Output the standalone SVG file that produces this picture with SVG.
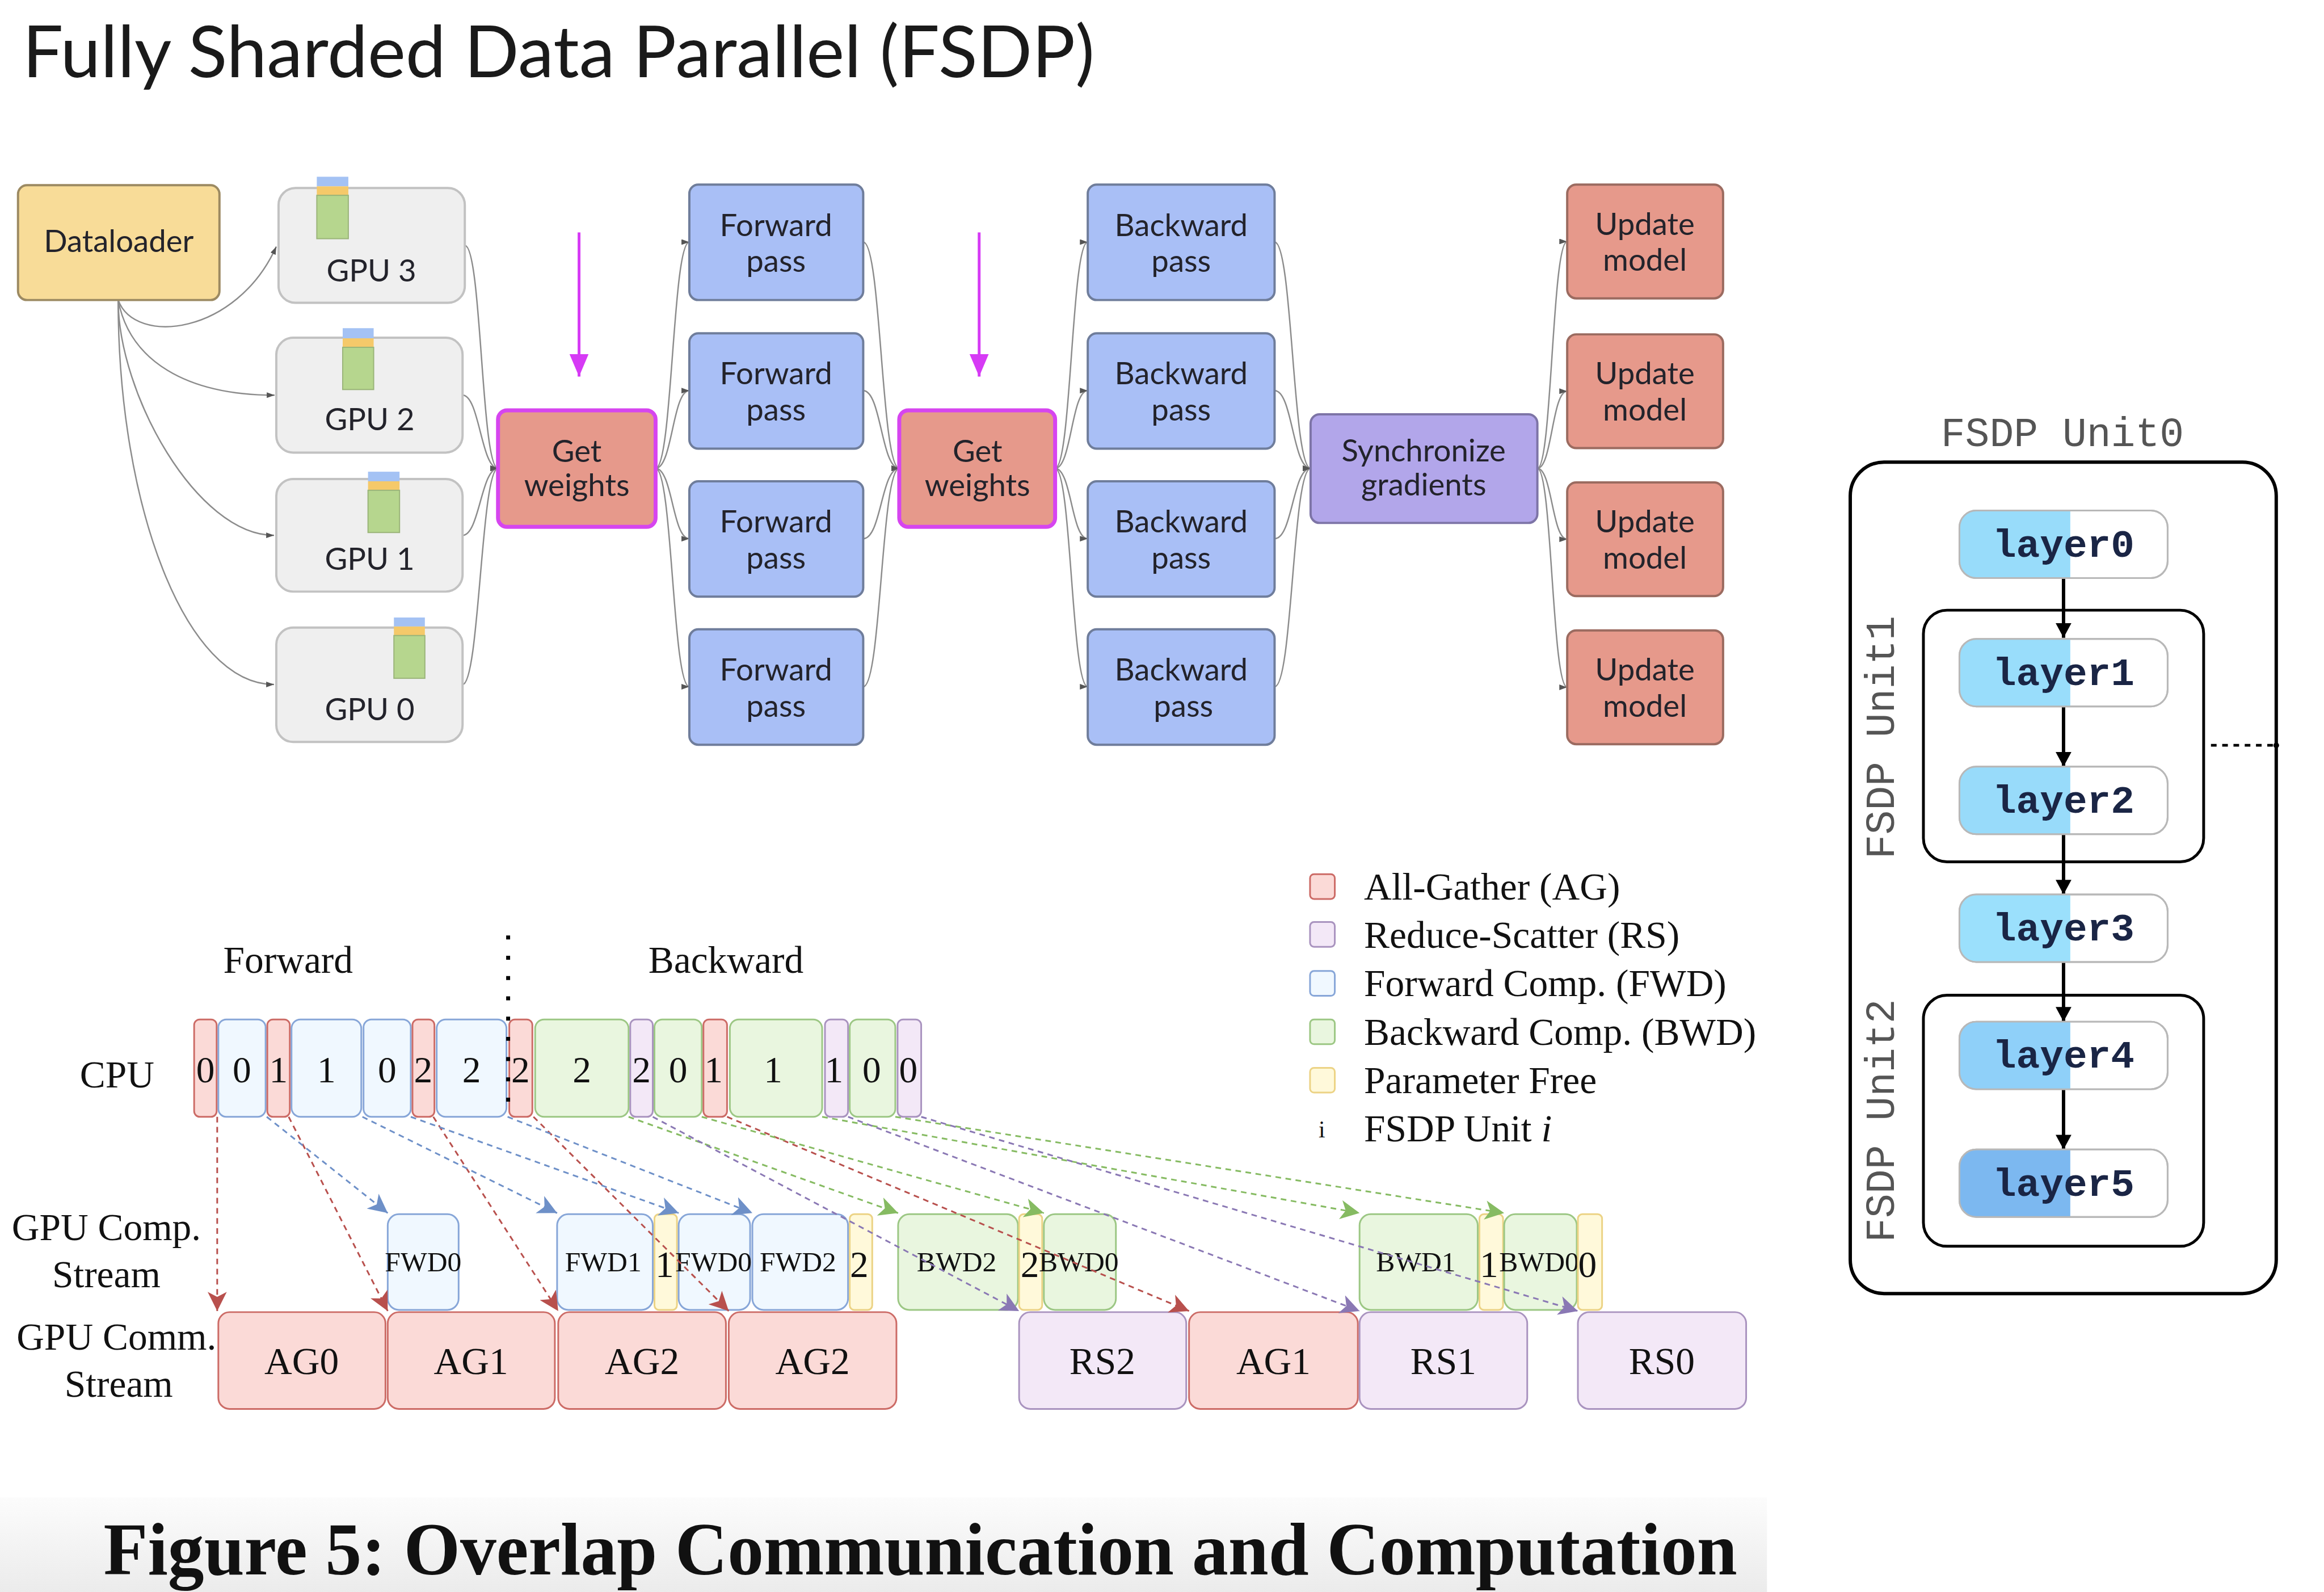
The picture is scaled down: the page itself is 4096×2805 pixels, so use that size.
<svg xmlns="http://www.w3.org/2000/svg" width="4096" height="2805" viewBox="0 0 4096 2805">
<defs>
<style>
.nt{font-family:Lato,'Open Sans','DejaVu Sans',sans-serif;font-size:55px;fill:#23232b;text-anchor:middle}
.conn{fill:none;stroke:#8c8c8c;stroke-width:2.5;marker-end:url(#sm)}
.ser{font-family:'Liberation Serif','Times New Roman',serif;fill:#111}
.mid{text-anchor:middle}
.gpu{fill:#efefef;stroke:#c2c2c2;stroke-width:4}
.fb{fill:#a9bff6;stroke:#6f7d9b;stroke-width:4}
.upd{fill:#e6998b;stroke:#9b6b60;stroke-width:4}
.gw{fill:#e6998b;stroke:#d645ef;stroke-width:7}
.r{fill:#fbdad7;stroke:#cc6b66;stroke-width:3}
.b{fill:#f0f8ff;stroke:#87a6d8;stroke-width:3}
.g{fill:#e9f6df;stroke:#9cc784;stroke-width:3}
.p{fill:#f3e8f7;stroke:#a993bf;stroke-width:3}
.y{fill:#fff9da;stroke:#ecd385;stroke-width:3}
.dr{fill:none;stroke:#b8504d;stroke-width:3;stroke-dasharray:10 8;marker-end:url(#ar)}
.db{fill:none;stroke:#6e90c8;stroke-width:3;stroke-dasharray:10 8;marker-end:url(#ab)}
.dg{fill:none;stroke:#86bb62;stroke-width:3;stroke-dasharray:10 8;marker-end:url(#ag)}
.dp{fill:none;stroke:#8a78b4;stroke-width:3;stroke-dasharray:10 8;marker-end:url(#ap)}
.lay{fill:#ffffff;stroke:#b8b8b8;stroke-width:3}
.lt{font-family:'Liberation Mono','DejaVu Sans Mono',monospace;font-weight:bold;font-size:70px;fill:#1a2545;text-anchor:middle}
.ut{font-family:'Liberation Mono','DejaVu Sans Mono',monospace;font-size:72px;fill:#555;text-anchor:middle}
.la{fill:none;stroke:#000;stroke-width:6;marker-end:url(#ak)}
</style>
<marker id="sm" markerUnits="userSpaceOnUse" viewBox="0 0 14 10" refX="14" refY="5" markerWidth="14" markerHeight="10" orient="auto"><path d="M0,0 L14,5 L0,10 Z" fill="#555"/></marker>
<marker id="ar" markerUnits="userSpaceOnUse" viewBox="0 0 34 34" refX="34" refY="17" markerWidth="34" markerHeight="34" orient="auto"><path d="M0,0 L34,17 L0,34 L9,17 Z" fill="#b8504d"/></marker>
<marker id="ab" markerUnits="userSpaceOnUse" viewBox="0 0 34 34" refX="34" refY="17" markerWidth="34" markerHeight="34" orient="auto"><path d="M0,0 L34,17 L0,34 L9,17 Z" fill="#6e90c8"/></marker>
<marker id="ag" markerUnits="userSpaceOnUse" viewBox="0 0 34 34" refX="34" refY="17" markerWidth="34" markerHeight="34" orient="auto"><path d="M0,0 L34,17 L0,34 L9,17 Z" fill="#86bb62"/></marker>
<marker id="ap" markerUnits="userSpaceOnUse" viewBox="0 0 34 34" refX="34" refY="17" markerWidth="34" markerHeight="34" orient="auto"><path d="M0,0 L34,17 L0,34 L9,17 Z" fill="#8a78b4"/></marker>
<marker id="ak" markerUnits="userSpaceOnUse" viewBox="0 0 26 28" refX="26" refY="14" markerWidth="26" markerHeight="28" orient="auto"><path d="M0,0 L26,14 L0,28 Z" fill="#000"/></marker>
<marker id="am" markerUnits="userSpaceOnUse" viewBox="0 0 40 34" refX="40" refY="17" markerWidth="40" markerHeight="34" orient="auto"><path d="M0,0 L40,17 L0,34 Z" fill="#d63af5"/></marker>
<linearGradient id="band" x1="0" y1="0" x2="0" y2="1"><stop offset="0" stop-color="#fcfcfc"/><stop offset="1" stop-color="#ebebeb"/></linearGradient>
</defs>
<rect width="4096" height="2805" fill="#ffffff"/>
<g transform="scale(0.9918)">
<text id="title" x="40" y="137" font-family="Lato,'Open Sans',sans-serif" font-size="128" fill="#1a1a1a" textLength="1905" lengthAdjust="spacingAndGlyphs">Fully Sharded Data Parallel (FSDP)</text>

<!-- top connectors -->
<g id="connectors-top">
<path class="conn" d="M210,533 C240,615 420,595 491,438"/>
<path class="conn" d="M210,533 C230,640 330,702 488,702"/>
<path class="conn" d="M210,533 C210,700 350,951 487,951"/>
<path class="conn" d="M210,533 C210,900 330,1216 487,1216"/>
<path class="conn" d="M826,436 C856,436 855,832 885,832"/>
<path class="conn" d="M822,702 C852,702 855,832 885,832"/>
<path class="conn" d="M822,951 C852,951 855,832 885,832"/>
<path class="conn" d="M822,1216 C852,1216 855,832 885,832"/>
<path class="conn" d="M1165,832 C1195,832 1195,430 1225,430"/>
<path class="conn" d="M1165,832 C1195,832 1195,694 1225,694"/>
<path class="conn" d="M1165,832 C1195,832 1195,957 1225,957"/>
<path class="conn" d="M1165,832 C1195,832 1195,1220 1225,1220"/>
<path class="conn" d="M1534,430 C1566,430 1566,832 1598,832"/>
<path class="conn" d="M1534,694 C1566,694 1566,832 1598,832"/>
<path class="conn" d="M1534,957 C1566,957 1566,832 1598,832"/>
<path class="conn" d="M1534,1220 C1566,1220 1566,832 1598,832"/>
<path class="conn" d="M1875,832 C1904,832 1904,430 1933,430"/>
<path class="conn" d="M1875,832 C1904,832 1904,694 1933,694"/>
<path class="conn" d="M1875,832 C1904,832 1904,957 1933,957"/>
<path class="conn" d="M1875,832 C1904,832 1904,1220 1933,1220"/>
<path class="conn" d="M2265,430 C2297,430 2297,832 2329,832"/>
<path class="conn" d="M2265,694 C2297,694 2297,832 2329,832"/>
<path class="conn" d="M2265,957 C2297,957 2297,832 2329,832"/>
<path class="conn" d="M2265,1220 C2297,1220 2297,832 2329,832"/>
<path class="conn" d="M2732,832 C2758,832 2758,429 2785,429"/>
<path class="conn" d="M2732,832 C2758,832 2758,695 2785,695"/>
<path class="conn" d="M2732,832 C2758,832 2758,958 2785,958"/>
<path class="conn" d="M2732,832 C2758,832 2758,1221 2785,1221"/>
<path d="M1029,413 V669" stroke="#d63af5" stroke-width="5" marker-end="url(#am)"/>
<path d="M1740,413 V669" stroke="#d63af5" stroke-width="5" marker-end="url(#am)"/>
</g>

<g id="dataloader"><rect x="32" y="329" width="358" height="204" rx="16" fill="#f8dc98" stroke="#9c8a62" stroke-width="4"/><text class="nt" x="211" y="448" fill="#3a3020">Dataloader</text></g>

<g id="gpu3"><rect class="gpu" x="495" y="334" width="331" height="204" rx="30"/>
<rect x="563" y="314" width="56" height="17" fill="#a4c2f4"/><rect x="563" y="331" width="56" height="16" fill="#f5c96a"/><rect x="563" y="347" width="56" height="77" fill="#b6d68e" stroke="#9ab479" stroke-width="2"/>
<text class="nt" x="660" y="500">GPU 3</text></g>
<g id="gpu2"><rect class="gpu" x="491" y="600" width="331" height="204" rx="30"/>
<rect x="609" y="583" width="55" height="18" fill="#a4c2f4"/><rect x="609" y="601" width="55" height="16" fill="#f5c96a"/><rect x="609" y="617" width="55" height="75" fill="#b6d68e" stroke="#9ab479" stroke-width="2"/>
<text class="nt" x="657" y="764">GPU 2</text></g>
<g id="gpu1"><rect class="gpu" x="491" y="851" width="331" height="200" rx="30"/>
<rect x="654" y="838" width="56" height="17" fill="#a4c2f4"/><rect x="654" y="855" width="56" height="16" fill="#f5c96a"/><rect x="654" y="871" width="56" height="75" fill="#b6d68e" stroke="#9ab479" stroke-width="2"/>
<text class="nt" x="657" y="1012">GPU 1</text></g>
<g id="gpu0"><rect class="gpu" x="491" y="1115" width="331" height="203" rx="30"/>
<rect x="700" y="1097" width="55" height="16" fill="#a4c2f4"/><rect x="700" y="1113" width="55" height="16" fill="#f5c96a"/><rect x="700" y="1129" width="55" height="76" fill="#b6d68e" stroke="#9ab479" stroke-width="2"/>
<text class="nt" x="657" y="1279">GPU 0</text></g>

<g id="getweights1"><rect class="gw" x="885" y="729" width="280" height="207" rx="16"/><text class="nt" x="1025" y="821">Get</text><text class="nt" x="1025" y="881">weights</text></g>
<g id="getweights2"><rect class="gw" x="1598" y="729" width="277" height="207" rx="16"/><text class="nt" x="1737" y="821">Get</text><text class="nt" x="1737" y="881">weights</text></g>

<g id="fwd1"><rect class="fb" x="1225" y="328" width="309" height="205" rx="16"/><text class="nt" x="1379" y="419">Forward</text><text class="nt" x="1379" y="483">pass</text></g>
<g id="fwd2"><rect class="fb" x="1225" y="592" width="309" height="205" rx="16"/><text class="nt" x="1379" y="683">Forward</text><text class="nt" x="1379" y="747">pass</text></g>
<g id="fwd3"><rect class="fb" x="1225" y="855" width="309" height="205" rx="16"/><text class="nt" x="1379" y="946">Forward</text><text class="nt" x="1379" y="1010">pass</text></g>
<g id="fwd4"><rect class="fb" x="1225" y="1118" width="309" height="205" rx="16"/><text class="nt" x="1379" y="1209">Forward</text><text class="nt" x="1379" y="1273">pass</text></g>

<g id="bwd1"><rect class="fb" x="1933" y="328" width="332" height="205" rx="16"/><text class="nt" x="2099" y="419">Backward</text><text class="nt" x="2099" y="483">pass</text></g>
<g id="bwd2"><rect class="fb" x="1933" y="592" width="332" height="205" rx="16"/><text class="nt" x="2099" y="683">Backward</text><text class="nt" x="2099" y="747">pass</text></g>
<g id="bwd3"><rect class="fb" x="1933" y="855" width="332" height="205" rx="16"/><text class="nt" x="2099" y="946">Backward</text><text class="nt" x="2099" y="1010">pass</text></g>
<g id="bwd4"><rect class="fb" x="1933" y="1118" width="332" height="205" rx="16"/><text class="nt" x="2099" y="1209">Backward</text><text class="nt" x="2103" y="1273">pass</text></g>

<g id="sync"><rect x="2329" y="736" width="403" height="193" rx="16" fill="#b2a6ea" stroke="#7d74a6" stroke-width="4"/><text class="nt" x="2530" y="820">Synchronize</text><text class="nt" x="2530" y="880">gradients</text></g>

<g id="upd1"><rect class="upd" x="2785" y="328" width="277" height="202" rx="16"/><text class="nt" x="2923" y="417">Update</text><text class="nt" x="2923" y="481">model</text></g>
<g id="upd2"><rect class="upd" x="2785" y="594" width="277" height="202" rx="16"/><text class="nt" x="2923" y="683">Update</text><text class="nt" x="2923" y="747">model</text></g>
<g id="upd3"><rect class="upd" x="2785" y="857" width="277" height="202" rx="16"/><text class="nt" x="2923" y="946">Update</text><text class="nt" x="2923" y="1010">model</text></g>
<g id="upd4"><rect class="upd" x="2785" y="1120" width="277" height="202" rx="16"/><text class="nt" x="2923" y="1209">Update</text><text class="nt" x="2923" y="1273">model</text></g>

<!-- right panel -->
<g id="fsdp-panel">
<text class="ut" x="3665" y="793">FSDP Unit0</text>
<rect x="3288" y="821" width="757" height="1477" rx="60" fill="none" stroke="#000" stroke-width="6"/>
<rect x="3418" y="1084" width="498" height="447" rx="42" fill="none" stroke="#000" stroke-width="5"/>
<rect x="3418" y="1768" width="498" height="446" rx="42" fill="none" stroke="#000" stroke-width="5"/>
<text class="ut" transform="translate(3366,1310) rotate(-90)" x="0" y="0">FSDP Unit1</text>
<text class="ut" transform="translate(3366,1991) rotate(-90)" x="0" y="0">FSDP Unit2</text>
<path d="M3929,1324 H4044" stroke="#000" stroke-width="5" stroke-dasharray="10 10"/>
<circle cx="4045" cy="1324" r="5" fill="#000"/>
</g>
<g id="layer-arrows">
<path class="la" d="M3667,1028 V1133"/>
<path class="la" d="M3667,1255 V1362"/>
<path class="la" d="M3667,1482 V1589"/>
<path class="la" d="M3667,1709 V1815"/>
<path class="la" d="M3667,1935 V2042"/>
</g>
<g id="layer0"><rect class="lay" x="3482" y="907" width="370" height="120" rx="30"/><path d="M3512,907 H3679 V1027 H3512 A30,30 0 0 1 3482,997 V937 A30,30 0 0 1 3512,907 Z" fill="#98dcfa"/><rect x="3482" y="907" width="370" height="120" rx="30" fill="none" stroke="#b8b8b8" stroke-width="3"/><text class="lt" x="3667" y="989">layer0</text></g>
<g id="layer1"><rect class="lay" x="3482" y="1135" width="370" height="120" rx="30"/><path d="M3512,1135 H3679 V1255 H3512 A30,30 0 0 1 3482,1225 V1165 A30,30 0 0 1 3512,1135 Z" fill="#99ddfb"/><rect x="3482" y="1135" width="370" height="120" rx="30" fill="none" stroke="#b8b8b8" stroke-width="3"/><text class="lt" x="3667" y="1217">layer1</text></g>
<g id="layer2"><rect class="lay" x="3482" y="1362" width="370" height="120" rx="30"/><path d="M3512,1362 H3679 V1482 H3512 A30,30 0 0 1 3482,1452 V1392 A30,30 0 0 1 3512,1362 Z" fill="#98dbfa"/><rect x="3482" y="1362" width="370" height="120" rx="30" fill="none" stroke="#b8b8b8" stroke-width="3"/><text class="lt" x="3667" y="1444">layer2</text></g>
<g id="layer3"><rect class="lay" x="3482" y="1589" width="370" height="120" rx="30"/><path d="M3512,1589 H3679 V1709 H3512 A30,30 0 0 1 3482,1679 V1619 A30,30 0 0 1 3512,1589 Z" fill="#9be0fc"/><rect x="3482" y="1589" width="370" height="120" rx="30" fill="none" stroke="#b8b8b8" stroke-width="3"/><text class="lt" x="3667" y="1671">layer3</text></g>
<g id="layer4"><rect class="lay" x="3482" y="1815" width="370" height="120" rx="30"/><path d="M3512,1815 H3679 V1935 H3512 A30,30 0 0 1 3482,1905 V1845 A30,30 0 0 1 3512,1815 Z" fill="#8fd0f9"/><rect x="3482" y="1815" width="370" height="120" rx="30" fill="none" stroke="#b8b8b8" stroke-width="3"/><text class="lt" x="3667" y="1897">layer4</text></g>
<g id="layer5"><rect class="lay" x="3482" y="2042" width="370" height="120" rx="30"/><path d="M3512,2042 H3679 V2162 H3512 A30,30 0 0 1 3482,2132 V2072 A30,30 0 0 1 3512,2042 Z" fill="#7cb8f0"/><rect x="3482" y="2042" width="370" height="120" rx="30" fill="none" stroke="#b8b8b8" stroke-width="3"/><text class="lt" x="3667" y="2124">layer5</text></g>

<!-- timeline -->
<g id="timeline-labels" class="ser" font-size="68">
<text class="mid" x="512" y="1728">Forward</text>
<text class="mid" x="1290" y="1728">Backward</text>
<text class="mid" x="208" y="1932">CPU</text>
<text class="mid" x="189" y="2203">GPU Comp.</text>
<text class="mid" x="189" y="2287">Stream</text>
<text class="mid" x="207" y="2398">GPU Comm.</text>
<text class="mid" x="211" y="2481">Stream</text>
</g>

<g id="cpu-row" class="ser" font-size="66">
<rect class="r" x="345" y="1811" width="40" height="173" rx="10"/><text class="mid" x="365" y="1923">0</text>
<rect class="b" x="388" y="1811" width="84" height="173" rx="14"/><text class="mid" x="430" y="1923">0</text>
<rect class="r" x="475" y="1811" width="40" height="173" rx="10"/><text class="mid" x="495" y="1923">1</text>
<rect class="b" x="518" y="1811" width="124" height="173" rx="16"/><text class="mid" x="580" y="1923">1</text>
<rect class="b" x="646" y="1811" width="84" height="173" rx="14"/><text class="mid" x="688" y="1923">0</text>
<rect class="r" x="733" y="1811" width="39" height="173" rx="10"/><text class="mid" x="752" y="1923">2</text>
<rect class="b" x="776" y="1811" width="124" height="173" rx="16"/><text class="mid" x="838" y="1923">2</text>
<rect class="r" x="905" y="1811" width="41" height="173" rx="10"/><text class="mid" x="925" y="1923">2</text>
<rect class="g" x="951" y="1811" width="166" height="173" rx="16"/><text class="mid" x="1034" y="1923">2</text>
<rect class="p" x="1120" y="1811" width="40" height="173" rx="10"/><text class="mid" x="1140" y="1923">2</text>
<rect class="g" x="1163" y="1811" width="84" height="173" rx="14"/><text class="mid" x="1205" y="1923">0</text>
<rect class="r" x="1250" y="1811" width="42" height="173" rx="10"/><text class="mid" x="1268" y="1923">1</text>
<rect class="g" x="1297" y="1811" width="164" height="173" rx="16"/><text class="mid" x="1374" y="1923">1</text>
<rect class="p" x="1466" y="1811" width="41" height="173" rx="10"/><text class="mid" x="1482" y="1923">1</text>
<rect class="g" x="1510" y="1811" width="81" height="173" rx="14"/><text class="mid" x="1549" y="1923">0</text>
<rect class="p" x="1595" y="1811" width="42" height="173" rx="10"/><text class="mid" x="1614" y="1923">0</text>
</g>
<path id="separator" d="M903,1662 V1984" stroke="#000" stroke-width="7" stroke-dasharray="7 29"/>

<g id="comp-row" class="ser">
<rect class="b" x="689" y="2157" width="126" height="170" rx="20"/><text class="mid" x="752" y="2259" font-size="50">FWD0</text>
<rect class="b" x="990" y="2157" width="170" height="170" rx="20"/><text class="mid" x="1072" y="2259" font-size="50">FWD1</text>
<rect class="y" x="1163" y="2157" width="40" height="170" rx="8"/><text class="mid" x="1181" y="2269" font-size="66">1</text>
<rect class="b" x="1206" y="2157" width="127" height="170" rx="20"/><text class="mid" x="1268" y="2259" font-size="50">FWD0</text>
<rect class="b" x="1337" y="2157" width="170" height="170" rx="20"/><text class="mid" x="1418" y="2259" font-size="50">FWD2</text>
<rect class="y" x="1510" y="2157" width="40" height="170" rx="8"/><text class="mid" x="1527" y="2269" font-size="66">2</text>
<rect class="g" x="1596" y="2157" width="213" height="170" rx="20"/><text class="mid" x="1700" y="2259" font-size="50">BWD2</text>
<rect class="y" x="1811" y="2157" width="41" height="170" rx="8"/><text class="mid" x="1830" y="2269" font-size="66">2</text>
<rect class="g" x="1855" y="2157" width="128" height="170" rx="20"/><text class="mid" x="1917" y="2259" font-size="50">BWD0</text>
<rect class="g" x="2416" y="2157" width="210" height="170" rx="20"/><text class="mid" x="2516" y="2259" font-size="50">BWD1</text>
<rect class="y" x="2629" y="2157" width="42" height="170" rx="8"/><text class="mid" x="2646" y="2269" font-size="66">1</text>
<rect class="g" x="2673" y="2157" width="129" height="170" rx="20"/><text class="mid" x="2735" y="2259" font-size="50">BWD0</text>
<rect class="y" x="2804" y="2157" width="43" height="170" rx="8"/><text class="mid" x="2821" y="2269" font-size="66">0</text>
</g>

<g id="comm-row" class="ser" font-size="68">
<rect class="r" x="388" y="2331" width="297" height="172" rx="20"/><text class="mid" x="536" y="2441">AG0</text>
<rect class="r" x="689" y="2331" width="297" height="172" rx="20"/><text class="mid" x="837" y="2441">AG1</text>
<rect class="r" x="992" y="2331" width="298" height="172" rx="20"/><text class="mid" x="1141" y="2441">AG2</text>
<rect class="r" x="1295" y="2331" width="298" height="172" rx="20"/><text class="mid" x="1444" y="2441">AG2</text>
<rect class="p" x="1811" y="2331" width="297" height="172" rx="20"/><text class="mid" x="1959" y="2441">RS2</text>
<rect class="r" x="2113" y="2331" width="300" height="172" rx="20"/><text class="mid" x="2263" y="2441">AG1</text>
<rect class="p" x="2416" y="2331" width="298" height="172" rx="20"/><text class="mid" x="2565" y="2441">RS1</text>
<rect class="p" x="2804" y="2331" width="299" height="172" rx="20"/><text class="mid" x="2953" y="2441">RS0</text>
</g>

<g id="connectors-timeline">
<path class="dr" d="M386,1984 L386,2329"/>
<path class="dr" d="M513,1984 L689,2329"/>
<path class="dr" d="M770,1984 L992,2329"/>
<path class="dr" d="M948,1984 L1295,2329"/>
<path class="dr" d="M1292,1984 L2113,2329"/>
<path class="db" d="M474,1984 L689,2155"/>
<path class="db" d="M644,1984 L990,2155"/>
<path class="db" d="M730,1984 L1206,2155"/>
<path class="db" d="M902,1984 L1337,2155"/>
<path class="dg" d="M1117,1984 L1596,2155"/>
<path class="dg" d="M1247,1984 L1855,2155"/>
<path class="dg" d="M1461,1984 L2416,2155"/>
<path class="dg" d="M1591,1984 L2673,2155"/>
<path class="dp" d="M1160,1984 L1811,2329"/>
<path class="dp" d="M1507,1984 L2416,2329"/>
<path class="dp" d="M1637,1984 L2804,2329"/>
</g>

<g id="legend" class="ser" font-size="68">
<rect class="r" x="2328" y="1553" width="44" height="44" rx="7"/><text x="2424" y="1598">All-Gather (AG)</text>
<rect class="p" x="2328" y="1638" width="44" height="44" rx="7"/><text x="2424" y="1684">Reduce-Scatter (RS)</text>
<rect class="b" x="2328" y="1725" width="44" height="44" rx="7"/><text x="2424" y="1770">Forward Comp. (FWD)</text>
<rect class="g" x="2328" y="1811" width="44" height="44" rx="7"/><text x="2424" y="1856">Backward Comp. (BWD)</text>
<rect class="y" x="2328" y="1897" width="44" height="44" rx="7"/><text x="2424" y="1942">Parameter Free</text>
<text class="mid" x="2349" y="2021" font-size="42">i</text><text x="2424" y="2028">FSDP Unit <tspan font-style="italic">i</tspan></text>
</g>

<g id="caption">
<rect x="0" y="2660" width="3140" height="170" fill="url(#band)"/>
<text x="184" y="2797" font-family="'Liberation Serif','Times New Roman',serif" font-weight="bold" font-size="132" fill="#111" textLength="2903" lengthAdjust="spacingAndGlyphs">Figure 5: Overlap Communication and Computation</text>
</g>
</g>
</svg>
